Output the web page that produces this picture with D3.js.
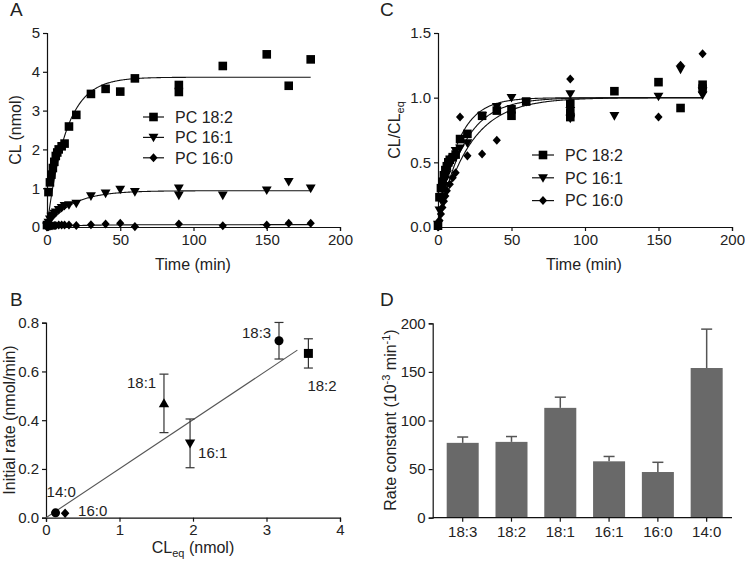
<!DOCTYPE html>
<html><head><meta charset="utf-8">
<script src="https://cdn.jsdelivr.net/npm/d3@7"></script>
<style>
html,body{margin:0;padding:0;background:#fff;}
svg{display:block;font-family:"Liberation Sans",Arial,sans-serif;}
</style></head>
<body><svg id="fig" width="745" height="567"></svg>
<script>
// ---------- DATA ----------
// Panel A: CL (nmol) vs time (min)
const tA_182 = [0,1,2,3,4,5,6,7,8,10,12,15,20,30,40,50,60,90,90,120,150,165,180];
const vA_182 = [0.05,0.9,1.15,1.35,1.52,1.68,1.83,1.92,2.0,2.08,2.15,2.59,2.89,3.43,3.56,3.49,3.83,3.48,3.66,4.15,4.45,3.64,4.32];
const tA_161 = [0,1,2,3,4,5,6,8,10,12,15,20,30,40,50,60,90,90,120,150,165,180];
const vA_161 = [0.02,0.12,0.2,0.27,0.3,0.35,0.38,0.45,0.5,0.55,0.57,0.61,0.8,0.87,0.97,0.91,1.0,0.82,0.82,0.95,1.17,1.0];
const tA_160 = [0,1,2,3,4,5,6,8,10,12,15,20,30,40,50,60,90,120,150,165,180];
const vA_160 = [0,0.01,0.02,0.03,0.03,0.04,0.04,0.05,0.05,0.05,0.05,0.04,0.06,0.08,0.095,0.01,0.077,0.035,0.05,0.095,0.095];
// Panel C: CL/CLeq vs time (min)
const tC_182 = [0,1,2,3,4,5,6,7,8,10,12,15,20,30,40,50,50,60,90,90,90,120,150,165,180,180];
const vC_182 = [0.01,0.23,0.30,0.35,0.40,0.44,0.47,0.50,0.52,0.54,0.56,0.68,0.72,0.86,0.90,0.91,0.86,0.97,0.95,0.88,0.85,1.05,1.12,0.92,1.1,1.07];
const tC_161 = [0,1,2,3,4,5,6,8,10,12,15,20,30,40,50,60,90,90,90,120,150,165,180,180];
const vC_161 = [0.02,0.13,0.21,0.29,0.32,0.37,0.41,0.48,0.53,0.59,0.61,0.65,0.86,0.93,1.0,0.97,1.03,0.9,0.84,0.86,1.01,1.22,1.05,1.02];
const tC_160 = [0,1,2,3,4,5,6,8,10,12,15,20,30,40,90,150,165,180];
const vC_160 = [0,0.05,0.1,0.15,0.2,0.24,0.28,0.33,0.38,0.42,0.85,0.55,0.565,0.67,1.145,0.85,1.25,1.34];
// Fit parameters (plateau in nmol, rate constant in 1/min)
const seriesNames = ["PC 18:2","PC 16:1","PC 16:0"];
const fitPlateau = [3.86,0.935,0.06];
const fitK = [0.078,0.058,0.047];
const fitTmax = 180;
// Panel B
const bLabels = ["18:3","18:2","18:1","16:1","16:0","14:0"];
const bCLeq  = [3.17,3.57,1.605,1.96,0.26,0.13];
const bRate  = [0.726,0.674,0.469,0.305,0.018,0.02];
const bErr   = [0.075,0.06,0.12,0.1,0,0];
const bRegSlope = 0.201, bRegIntercept = 0.0, bRegXmax = 3.42;
// Panel D
const dCats = ["18:3","18:2","18:1","16:1","16:0","14:0"];
const dVals = [77,78,113,58,47,154];
const dErr  = [6,5.5,11,5,10,40];
// Tick values
const ticksA_x = [0,50,100,150,200], ticksA_y = [0,1,2,3,4,5];
const ticksC_x = [0,50,100,150,200], ticksC_y = [0,0.5,1.0,1.5];
const ticksB_x = [0,1,2,3,4], ticksB_y = [0,0.2,0.4,0.6,0.8];
const ticksD_y = [0,50,100,150,200];

// ---------- DRAWING ----------
const svg = d3.select("#fig");
const TXT = "#222";
const FS_TICK = 15, FS_TITLE = 16;

function shape(type, s){
  switch(type){
    case "square": return `M${-s},${-s}h${2*s}v${2*s}h${-2*s}Z`;
    case "triDown": return `M${-s*1.15},${-s*0.85}L${s*1.15},${-s*0.85}L0,${s*1.15}Z`;
    case "triUp": return `M${-s*1.15},${s*0.85}L${s*1.15},${s*0.85}L0,${-s*1.15}Z`;
    case "diamond": return `M0,${-s*1.05}L${s*0.95},0L0,${s*1.05}L${-s*0.95},0Z`;
    case "circle": return `M${s},0A${s},${s} 0 1,1 ${-s},0A${s},${s} 0 1,1 ${s},0Z`;
  }
}
function styleAxis(g){
  g.select(".domain").attr("stroke","#111").attr("stroke-width",1.2);
  g.selectAll(".tick line").attr("stroke","#111").attr("stroke-width",1.2);
  g.selectAll(".tick text").attr("fill",TXT).attr("font-size",FS_TICK)
    .attr("font-family","'Liberation Sans',Arial,sans-serif");
}
function xAxis(scale, y, ticks, fmt){
  const g = svg.append("g").attr("transform",`translate(0,${y})`)
    .call(d3.axisBottom(scale).tickValues(ticks).tickFormat(fmt).tickSizeOuter(0).tickSize(4).tickPadding(3));
  styleAxis(g); return g;
}
function yAxis(scale, x, ticks, fmt){
  const g = svg.append("g").attr("transform",`translate(${x},0)`)
    .call(d3.axisLeft(scale).tickValues(ticks).tickFormat(fmt).tickSizeOuter(0).tickSize(4).tickPadding(3));
  styleAxis(g); return g;
}
function panelLetter(txt,x,y){
  svg.append("text").attr("x",x).attr("y",y).attr("font-size",19).attr("fill",TXT).text(txt);
}
const shapesABC = ["square","triDown","diamond"];

// ---- Panel A ----
const xA = d3.scaleLinear().domain([0,200]).range([47,340]);
const yA = d3.scaleLinear().domain([0,5]).range([227,33]);
xAxis(xA, 227, ticksA_x, d3.format("d"));
yAxis(yA, 47, ticksA_y, d3.format("d"));
panelLetter("A",10,16);
svg.append("text").attr("x",193).attr("y",270).attr("text-anchor","middle")
  .attr("font-size",FS_TITLE).attr("fill",TXT).text("Time (min)");
svg.append("text").attr("transform","translate(21,130) rotate(-90)").attr("text-anchor","middle")
  .attr("font-size",FS_TITLE).attr("fill",TXT).text("CL (nmol)");
const fitTimes = d3.range(0, fitTmax+0.01, 0.5);
const dataA = [[tA_182,vA_182],[tA_161,vA_161],[tA_160,vA_160]];
dataA.forEach((d,i)=>{
  const line = d3.line().x(t=>xA(t)).y(t=>yA(fitPlateau[i]*(1-Math.exp(-fitK[i]*t))));
  svg.append("path").attr("d",line(fitTimes)).attr("fill","none").attr("stroke","#111").attr("stroke-width",1.1);
  svg.append("g").selectAll("path").data(d[0].map((t,j)=>[t,d[1][j]])).join("path")
    .attr("transform",p=>`translate(${xA(p[0])},${yA(p[1])})`)
    .attr("d",shape(shapesABC[i],4.3)).attr("fill","#000");
});
// legend A
seriesNames.forEach((n,i)=>{
  const y = 117 + i*20.4;
  svg.append("line").attr("x1",143).attr("x2",164).attr("y1",y).attr("y2",y).attr("stroke","#111").attr("stroke-width",1.2);
  svg.append("path").attr("transform",`translate(153.5,${y})`).attr("d",shape(shapesABC[i],4.3)).attr("fill","#000");
  svg.append("text").attr("x",175).attr("y",y).attr("dy","0.36em").attr("font-size",FS_TITLE).attr("fill",TXT).text(n);
});

// ---- Panel C ----
const xC = d3.scaleLinear().domain([0,200]).range([438,732]);
const yC = d3.scaleLinear().domain([0,1.5]).range([227,33]);
xAxis(xC, 227, ticksC_x, d3.format("d"));
yAxis(yC, 438, ticksC_y, d3.format(".1f"));
panelLetter("C",380,16);
svg.append("text").attr("x",584).attr("y",270).attr("text-anchor","middle")
  .attr("font-size",FS_TITLE).attr("fill",TXT).text("Time (min)");
const tC = svg.append("text").attr("transform","translate(400,130) rotate(-90)").attr("text-anchor","middle")
  .attr("font-size",FS_TITLE).attr("fill",TXT);
tC.append("tspan").text("CL/CL");
tC.append("tspan").attr("font-size",11).attr("dy",4).text("eq");
const dataC = [[tC_182,vC_182],[tC_161,vC_161],[tC_160,vC_160]];
dataC.forEach((d,i)=>{
  const line = d3.line().x(t=>xC(t)).y(t=>yC(1-Math.exp(-fitK[i]*t)));
  svg.append("path").attr("d",line(fitTimes)).attr("fill","none").attr("stroke","#111").attr("stroke-width",1.1);
});
dataC.forEach((d,i)=>{
  svg.append("g").selectAll("path").data(d[0].map((t,j)=>[t,d[1][j]])).join("path")
    .attr("transform",p=>`translate(${xC(p[0])},${yC(p[1])})`)
    .attr("d",shape(shapesABC[i],4.3)).attr("fill","#000");
});
seriesNames.forEach((n,i)=>{
  const y = 155 + i*22.8;
  svg.append("line").attr("x1",532).attr("x2",554).attr("y1",y).attr("y2",y).attr("stroke","#111").attr("stroke-width",1.2);
  svg.append("path").attr("transform",`translate(543,${y})`).attr("d",shape(shapesABC[i],4.3)).attr("fill","#000");
  svg.append("text").attr("x",565).attr("y",y).attr("dy","0.36em").attr("font-size",FS_TITLE).attr("fill",TXT).text(n);
});

// ---- Panel B ----
const xB = d3.scaleLinear().domain([0,4]).range([46,340]);
const yB = d3.scaleLinear().domain([0,0.8]).range([517.7,322.7]);
xAxis(xB, 517.7, ticksB_x, d3.format("d"));
yAxis(yB, 46, ticksB_y, d3.format(".1f"));
panelLetter("B",10,306);
const tBx = svg.append("text").attr("x",193).attr("y",553).attr("text-anchor","middle")
  .attr("font-size",FS_TITLE).attr("fill",TXT);
tBx.append("tspan").text("CL");
tBx.append("tspan").attr("font-size",11).attr("dy",4).text("eq");
tBx.append("tspan").attr("dy",-4).text(" (nmol)");
svg.append("text").attr("transform","translate(15,420) rotate(-90)").attr("text-anchor","middle")
  .attr("font-size",FS_TITLE).attr("fill",TXT).text("Initial rate (nmol/min)");
svg.append("line").attr("x1",xB(0)).attr("x2",xB(bRegXmax))
  .attr("y1",yB(bRegIntercept)).attr("y2",yB(bRegIntercept+bRegSlope*bRegXmax))
  .attr("stroke","#555").attr("stroke-width",1.1);
const bShapes = ["circle","square","triUp","triDown","diamond","circle"];
const bLabelOff = [[-37,-3],[-1,38],[-37,-15],[8,15],[13,3],[-9,-16]];
bLabels.forEach((l,i)=>{
  const cx = xB(bCLeq[i]), cy = yB(bRate[i]);
  if(bErr[i]>0){
    const y1 = yB(bRate[i]+bErr[i]), y2 = yB(bRate[i]-bErr[i]);
    svg.append("line").attr("x1",cx).attr("x2",cx).attr("y1",y1).attr("y2",y2).attr("stroke","#333").attr("stroke-width",1.2);
    [y1,y2].forEach(yy=>svg.append("line").attr("x1",cx-4.5).attr("x2",cx+4.5).attr("y1",yy).attr("y2",yy).attr("stroke","#333").attr("stroke-width",1.2));
  }
  svg.append("path").attr("transform",`translate(${cx},${cy})`).attr("d",shape(bShapes[i],4.5)).attr("fill","#000");
  svg.append("text").attr("x",cx+bLabelOff[i][0]).attr("y",cy+bLabelOff[i][1])
    .attr("font-size",FS_TICK).attr("fill",TXT).text(l);
});

// ---- Panel D ----
const xD = d3.scaleBand().domain(dCats).range([432.7,732]).paddingInner(0.344).paddingOuter(0.239).align(0.6);
const yD = d3.scaleLinear().domain([0,200]).range([517.7,323.3]);
panelLetter("D",380,306);
svg.append("g").selectAll("rect").data(dCats).join("rect")
  .attr("x",c=>xD(c)).attr("width",xD.bandwidth())
  .attr("y",(c,i)=>yD(dVals[i])).attr("height",(c,i)=>yD(0)-yD(dVals[i]))
  .attr("fill","#696969");
dCats.forEach((c,i)=>{
  const cx = xD(c)+xD.bandwidth()/2;
  const yt = yD(dVals[i]+dErr[i]);
  svg.append("line").attr("x1",cx).attr("x2",cx).attr("y1",yD(dVals[i])).attr("y2",yt).attr("stroke","#555").attr("stroke-width",1.5);
  svg.append("line").attr("x1",cx-5.5).attr("x2",cx+5.5).attr("y1",yt).attr("y2",yt).attr("stroke","#555").attr("stroke-width",1.5);
});
const gDx = svg.append("g").attr("transform","translate(0,517.7)")
  .call(d3.axisBottom(xD).tickSizeOuter(0).tickSize(4).tickPadding(5));
styleAxis(gDx);
gDx.select(".domain").attr("d","M432.7,0H732");
yAxis(yD, 432.7, ticksD_y, d3.format("d"));
const tD = svg.append("text").attr("transform","translate(396,420) rotate(-90)").attr("text-anchor","middle")
  .attr("font-size",FS_TITLE).attr("fill",TXT);
tD.append("tspan").text("Rate constant (10");
tD.append("tspan").attr("font-size",11).attr("dy",-6).text("-3");
tD.append("tspan").attr("dy",6).text(" min");
tD.append("tspan").attr("font-size",11).attr("dy",-6).text("-1");
tD.append("tspan").attr("dy",6).text(")");
</script></body></html>
